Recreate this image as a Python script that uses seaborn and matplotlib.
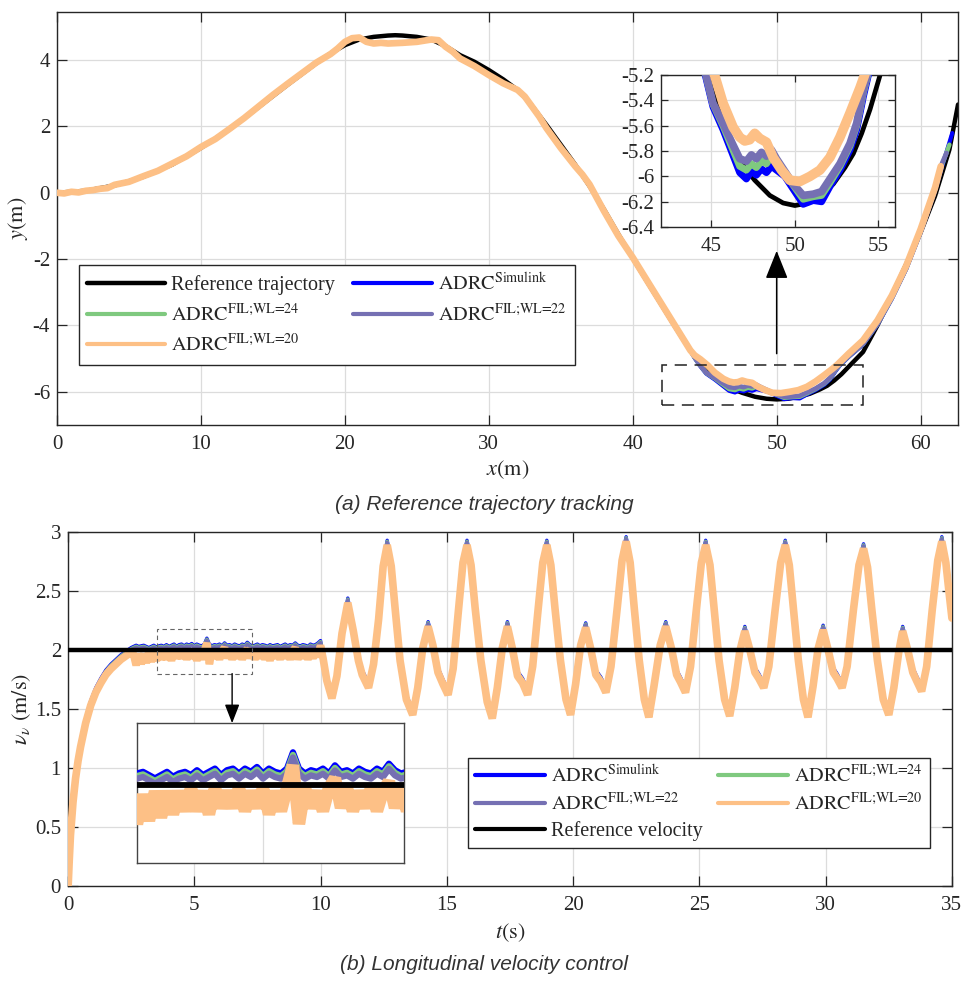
import numpy as np
import matplotlib
matplotlib.use('Agg')
import matplotlib.pyplot as plt
from matplotlib.lines import Line2D
from matplotlib.patches import Rectangle
from matplotlib.ticker import FuncFormatter
import seaborn as sns

# ---------------- data: (a) trajectory ----------------
ref_x = [0, 2, 4, 6, 8, 10, 12, 14, 16, 18,
         19, 20, 21, 22, 23, 23.5, 24, 25, 26, 27,
         28, 29, 30, 31, 32, 32.5, 33, 34, 35, 36,
         37, 38, 39, 40, 41, 42, 43, 44, 45, 46,
         47, 47.6, 48.5, 49.3, 50, 50.8, 51.6, 52.3, 53, 53.5,
         54, 54.5, 55.1, 56, 57, 58, 59, 60, 61, 62,
         62.6]
ref_y = [0, 0.06, 0.22, 0.48, 0.85, 1.35, 1.92, 2.58, 3.25, 3.9,
         4.2, 4.45, 4.62, 4.7, 4.74, 4.75, 4.74, 4.7, 4.62, 4.42,
         4.15, 3.95, 3.7, 3.42, 3.1, 2.88, 2.62, 2.05, 1.45, 0.85,
         0.2, -0.5, -1.25, -1.97, -2.68, -3.38, -4.08, -4.75, -5.3, -5.7,
         -5.93, -6.03, -6.15, -6.21, -6.23, -6.21, -6.14, -6.06, -5.93, -5.82,
         -5.66, -5.47, -5.2, -4.8, -4.0, -3.1, -2.15, -1.2, -0.1, 1.3,
         2.66]

# measured path, common to all controllers up to x = 44
track_x_left = [0, 0.5, 1, 1.5, 2, 2.5, 3, 3.5, 4,
                5, 6, 7, 8, 9, 10, 11, 12, 13, 14, 15, 16, 17, 18, 19,
                19.5, 20, 20.5, 21, 21.5, 22, 22.5, 23,
                24, 25, 26, 26.5, 27, 27.5, 28, 29, 30, 31, 32,
                32.5, 33, 33.5, 34, 35, 36, 36.5, 37, 37.5, 38,
                39, 40, 41, 42, 43, 43.5, 44]
track_y_left = [0.0, -0.02, 0.03, 0.01, 0.06, 0.08, 0.12, 0.14, 0.24,
                0.33, 0.5, 0.66, 0.88, 1.1, 1.38, 1.62, 1.93, 2.25, 2.6, 2.95, 3.28, 3.6, 3.92, 4.18,
                4.35, 4.55, 4.66, 4.68, 4.55, 4.5, 4.52, 4.5,
                4.52, 4.55, 4.62, 4.6, 4.4, 4.25, 4.05, 3.82, 3.55, 3.3, 3.1,
                2.9, 2.6, 2.3, 1.95, 1.35, 0.8, 0.55, 0.25, -0.15, -0.55,
                -1.3, -1.95, -2.65, -3.35, -4.05, -4.4, -4.75]

# per-controller path around the minimum and up to the end
sim_x_low = [44.3, 44.64, 45.1, 45.7, 46.26, 46.7, 47.1, 47.4, 47.7, 48.0,
             48.3, 48.6, 48.9, 49.4, 49.9, 50.5, 51.1, 51.6, 52.1, 52.7,
             53.3, 53.7, 54.1, 54.4, 55, 56, 57, 58, 59, 60,
             61, 61.5, 62.2]
sim_y_low = [-4.98, -5.2, -5.45, -5.63, -5.82, -5.97, -6.02, -5.96, -5.99, -5.94,
             -5.97, -5.92, -5.95, -6.0, -6.1, -6.22, -6.19, -6.2, -6.08, -5.95,
             -5.79, -5.63, -5.37, -5.2, -4.95, -4.58, -3.98, -3.2, -2.3, -1.2,
             0.05, 0.8, 1.8]
fil24_x_low = [44.3, 44.64, 45.1, 45.7, 46.26, 46.7, 47.1, 47.4, 47.7, 48.0,
               48.3, 48.6, 48.9, 49.4, 49.9, 50.5, 51.1, 51.6, 52.1, 52.7,
               53.3, 53.7, 54.1, 54.4, 55, 56, 57, 58, 59, 60,
               61, 61.5, 62.0]
fil24_y_low = [-4.97, -5.18, -5.43, -5.6, -5.78, -5.92, -5.95, -5.9, -5.93, -5.88,
               -5.9, -5.84, -5.88, -5.97, -6.07, -6.18, -6.16, -6.15, -6.05, -5.92,
               -5.76, -5.6, -5.34, -5.18, -4.93, -4.56, -3.96, -3.18, -2.28, -1.18,
               0.08, 0.85, 1.45]
fil22_x_low = [44.3, 44.64, 45.1, 45.7, 46.26, 46.7, 47.1, 47.4, 47.7, 48.0,
               48.3, 48.6, 48.9, 49.4, 49.9, 50.5, 51.1, 51.6, 52.1, 52.7,
               53.3, 53.7, 54.1, 54.4, 55, 56, 57, 58, 59, 60,
               61, 61.5, 61.8]
fil22_y_low = [-4.96, -5.17, -5.42, -5.58, -5.74, -5.86, -5.88, -5.83, -5.86, -5.81,
               -5.84, -5.79, -5.86, -5.96, -6.06, -6.15, -6.14, -6.12, -6.02, -5.9,
               -5.74, -5.58, -5.32, -5.16, -4.92, -4.55, -3.95, -3.17, -2.27, -1.17,
               0.1, 0.9, 1.2]
fil20_x_low = [44.3, 44.7, 45.2, 45.7, 46.3, 46.7, 47.0, 47.3, 47.6, 47.9,
               48.3, 48.7, 49.2, 49.7, 50.3, 50.9, 51.5, 52.1, 52.7, 53.3,
               53.9, 54.2, 55, 56, 57, 58, 59, 60, 61, 61.4]
fil20_y_low = [-4.9, -5.02, -5.2, -5.42, -5.61, -5.69, -5.72, -5.71, -5.66, -5.7,
               -5.73, -5.85, -5.95, -6.03, -6.04, -6.0, -5.95, -5.85, -5.69, -5.5,
               -5.3, -5.19, -4.85, -4.45, -3.85, -3.1, -2.2, -1.1, 0.15, 0.8]

# ---------------- data: (b) velocity ----------------
vel_ref = 2.0
rise_t = [0, 0.05, 0.1, 0.2, 0.3, 0.4, 0.5, 0.7, 0.9, 1.1, 1.3, 1.5, 1.7, 1.9, 2.1, 2.3, 2.5]
rise_sim = [0, 0.25, 0.47, 0.75, 0.95, 1.1, 1.22, 1.42, 1.57, 1.68, 1.76, 1.83, 1.88, 1.92, 1.96, 1.99, 2.02]

flat_t = [2.6, 2.7, 2.8, 2.9, 3.0, 3.1, 3.2, 3.3, 3.4, 3.5,
          3.6, 3.7, 3.8, 3.9, 4.0, 4.1, 4.2, 4.3, 4.4, 4.5,
          4.6, 4.7, 4.8, 4.9, 5.0, 5.1, 5.2, 5.3, 5.4, 5.5,
          5.6, 5.7, 5.8, 5.9, 6.0, 6.1, 6.2, 6.3, 6.4, 6.5,
          6.6, 6.7, 6.8, 6.9, 7.0, 7.1, 7.2, 7.3, 7.4, 7.5,
          7.6, 7.7, 7.8, 7.9, 8.0, 8.1, 8.2, 8.3, 8.4, 8.5,
          8.6, 8.7, 8.8, 8.9, 9.0, 9.1, 9.2, 9.3, 9.4, 9.5,
          9.6, 9.7, 9.8, 9.9]
flat_sim = [2.03, 2.04, 2.03, 2.035, 2.04, 2.03, 2.02, 2.03, 2.04, 2.025,
            2.035, 2.04, 2.03, 2.045, 2.03, 2.04, 2.05, 2.03, 2.045, 2.05,
            2.035, 2.05, 2.04, 2.055, 2.035, 2.05, 2.04, 2.035, 2.05, 2.1,
            2.05, 2.035, 2.045, 2.04, 2.05, 2.035, 2.06, 2.04, 2.045, 2.035,
            2.05, 2.04, 2.035, 2.05, 2.04, 2.065, 2.045, 2.035, 2.04, 2.05,
            2.035, 2.045, 2.04, 2.03, 2.045, 2.035, 2.04, 2.045, 2.03, 2.04,
            2.05, 2.035, 2.045, 2.04, 2.06, 2.04, 2.035, 2.045, 2.04, 2.03,
            2.05, 2.04, 2.045, 2.06]
flat_fil20 = [1.96, 1.87, 1.97, 1.88, 1.97, 1.89, 1.98, 1.90, 1.98, 1.91,
              1.98, 1.92, 1.99, 1.92, 1.98, 1.91, 1.99, 1.93, 1.98, 1.93,
              1.99, 1.92, 1.98, 1.93, 1.99, 1.91, 1.98, 1.92, 1.99, 2.06,
              1.88, 1.99, 1.93, 1.98, 1.92, 1.99, 2.02, 1.93, 1.99, 1.92,
              1.98, 1.93, 1.99, 1.92, 1.98, 2.01, 1.93, 1.99, 1.92, 1.98,
              1.93, 1.99, 1.92, 1.98, 1.91, 1.99, 1.93, 1.98, 1.92, 1.99,
              1.93, 1.98, 1.92, 1.99, 2.02, 1.92, 1.98, 1.93, 1.99, 1.92,
              1.98, 1.93, 1.99, 1.94]

osc_t = [10.0, 10.1, 10.25, 10.45, 10.65, 10.85, 11.08, 11.3, 11.5, 11.65, 11.9,
         12.1, 12.3, 12.48, 12.64, 12.8, 12.95, 13.15, 13.4, 13.65,
         13.85, 14.05, 14.26, 14.45, 14.65, 14.85, 15.05,
         15.25, 15.45, 15.64, 15.8, 15.96, 16.12, 16.35, 16.6, 16.8,
         17.0, 17.2, 17.4, 17.6, 17.8, 18.0, 18.2,
         18.4, 18.6, 18.8, 18.96, 19.12, 19.28, 19.5, 19.72, 19.9,
         20.1, 20.3, 20.5, 20.7, 20.9, 21.1, 21.3,
         21.5, 21.75, 21.94, 22.1, 22.26, 22.42, 22.62, 22.82, 23.0,
         23.2, 23.45, 23.67, 23.9, 24.1, 24.25, 24.45,
         24.65, 24.88, 25.08, 25.25, 25.42, 25.58, 25.78, 26.0, 26.2,
         26.4, 26.6, 26.8, 27.0, 27.2, 27.35, 27.55,
         27.75, 28.0, 28.22, 28.4, 28.56, 28.72, 28.92, 29.12, 29.3,
         29.5, 29.7, 29.9, 30.1, 30.3, 30.45, 30.65,
         30.85, 31.1, 31.32, 31.5, 31.66, 31.82, 32.05, 32.28, 32.5,
         32.7, 32.9, 33.05, 33.25, 33.45, 33.6, 33.8,
         34.0, 34.22, 34.44, 34.6, 34.76, 34.9, 35.0]
osc_sim = [2.08, 1.97, 1.78, 1.63, 1.82, 2.18, 2.44, 2.2, 1.95, 1.83, 1.72,
           1.92, 2.3, 2.75, 2.93, 2.75, 2.4, 1.95, 1.62, 1.49,
           1.72, 2.06, 2.24, 2.08, 1.85, 1.75, 1.66,
           1.88, 2.35, 2.78, 2.93, 2.76, 2.4, 1.95, 1.6, 1.46,
           1.72, 2.06, 2.24, 2.05, 1.82, 1.76, 1.66,
           1.9, 2.35, 2.78, 2.93, 2.76, 2.4, 1.95, 1.62, 1.49,
           1.75, 2.08, 2.23, 2.05, 1.83, 1.77, 1.68,
           1.9, 2.4, 2.8, 2.96, 2.78, 2.4, 1.95, 1.62, 1.47,
           1.73, 2.08, 2.24, 2.05, 1.83, 1.77, 1.68,
           1.9, 2.38, 2.78, 2.93, 2.76, 2.4, 1.95, 1.62, 1.48,
           1.72, 2.03, 2.2, 2.04, 1.85, 1.8, 1.72,
           1.9, 2.38, 2.78, 2.93, 2.76, 2.4, 1.95, 1.62, 1.47,
           1.73, 2.05, 2.21, 2.04, 1.85, 1.8, 1.72,
           1.9, 2.38, 2.76, 2.9, 2.74, 2.4, 1.95, 1.62, 1.49,
           1.72, 2.03, 2.2, 2.04, 1.85, 1.78, 1.69,
           1.9, 2.38, 2.8, 2.96, 2.78, 2.5, 2.31]

# how far each FIL run sits below the Simulink run
fil24_shift = -0.008
fil22_shift = -0.016
fil20_shift = -0.04

# ---------------- style ----------------
sns.set_style('whitegrid')
plt.rcParams['font.family'] = ['Liberation Serif', 'DejaVu Serif']
plt.rcParams['mathtext.fontset'] = 'stix'
plt.rcParams['axes.unicode_minus'] = False

C_REF = 'black'
C_SIM = '#0000ff'
C_24 = '#7fc97f'
C_22 = '#7570b3'
C_20 = '#fdc086'
DARK = '#262626'

LBL_SIM = r'$\mathrm{ADRC}^{\mathrm{Simulink}}$'
LBL_24 = r'$\mathrm{ADRC}^{\text{FIL;WL=24}}$'
LBL_22 = r'$\mathrm{ADRC}^{\text{FIL;WL=22}}$'
LBL_20 = r'$\mathrm{ADRC}^{\text{FIL;WL=20}}$'

fmt = FuncFormatter(lambda v, p: f'{v:g}')


def draw(ax, x, y, color, lw, z, join='round'):
    sns.lineplot(x=np.asarray(x, float), y=np.asarray(y, float), ax=ax, color=color,
                 linewidth=lw, sort=False, estimator=None, zorder=z, legend=False,
                 solid_joinstyle=join)


def style(ax, ticks=True):
    ax.set_facecolor('white')
    for s in ax.spines.values():
        s.set_visible(True)
        s.set_color(DARK)
        s.set_linewidth(1.0)
    ax.grid(True, color='#dcdcdc', linewidth=0.9)
    ax.set_axisbelow(True)
    if ticks:
        ax.tick_params(direction='in', length=7, width=0.9, top=True, right=True,
                       bottom=True, left=True, colors=DARK, labelsize=15,
                       labelfontfamily='Liberation Serif')
        ax.tick_params(axis='x', pad=7)
        ax.tick_params(axis='y', pad=5)
        ax.xaxis.set_major_formatter(fmt)
        ax.yaxis.set_major_formatter(fmt)
    else:
        ax.tick_params(length=0, labelbottom=False, labelleft=False)
    ax.set_xlabel('')
    ax.set_ylabel('')


fig = plt.figure(figsize=(9.68, 9.83), dpi=100)

# ---------------- (a) trajectory ----------------
ax1 = fig.add_axes([0.0589, 0.5677, 0.9308, 0.4201])
ax1_in = fig.add_axes([0.683, 0.769, 0.2417, 0.1546])

paths = [
    (np.r_[track_x_left, sim_x_low], np.r_[track_y_left, sim_y_low], C_SIM, 3.0, 5.0, 3),
    (np.r_[track_x_left, fil24_x_low], np.r_[track_y_left, fil24_y_low], C_24, 3.2, 5.0, 4),
    (np.r_[track_x_left, fil22_x_low], np.r_[track_y_left, fil22_y_low], C_22, 3.4, 5.5, 5),
    (np.r_[track_x_left, fil20_x_low], np.r_[track_y_left, fil20_y_low], C_20, 4.8, 7.0, 6),
]
draw(ax1, ref_x, ref_y, C_REF, 3.2, 2)
draw(ax1_in, ref_x, ref_y, C_REF, 3.4, 2)
for px, py, c, lw_main, lw_zoom, z in paths:
    draw(ax1, px, py, c, lw_main, z)
    draw(ax1_in, px, py, c, lw_zoom, z)

style(ax1)
ax1.set_xlim(0, 62.6)
ax1.set_ylim(-7, 5.45)
ax1.set_xticks([0, 10, 20, 30, 40, 50, 60])
ax1.set_yticks([-6, -4, -2, 0, 2, 4])
ax1.set_xlabel(r'$x(\mathrm{m})$', fontsize=16, color=DARK, labelpad=3)
ax1.set_ylabel(r'$y(\mathrm{m})$', fontsize=16, color=DARK, labelpad=2)

style(ax1_in)
ax1_in.set_xlim(42, 56)
ax1_in.set_ylim(-6.4, -5.2)
ax1_in.set_xticks([45, 50, 55])
ax1_in.set_yticks([-6.4, -6.2, -6, -5.8, -5.6, -5.4, -5.2])
ax1_in.tick_params(length=5)

ax1.add_patch(Rectangle((42, -6.4), 14, 1.2, fill=False, edgecolor='#222222',
                        linewidth=1.1, linestyle=(0, (8, 5)), zorder=8))
ax1.annotate('', xy=(50, -1.75), xytext=(50, -4.85),
             arrowprops=dict(arrowstyle='-|>,head_length=1.25,head_width=0.5',
                             color='black', lw=1.1, mutation_scale=14,
                             shrinkA=0, shrinkB=0), zorder=8)

h_ref = Line2D([], [], color=C_REF, lw=3.2)
h_sim = Line2D([], [], color=C_SIM, lw=3.0)
h_24 = Line2D([], [], color=C_24, lw=3.0)
h_22 = Line2D([], [], color=C_22, lw=3.0)
h_20 = Line2D([], [], color=C_20, lw=3.0)
leg1 = ax1.legend([h_ref, h_24, h_20, h_sim, h_22],
                  ['Reference trajectory', LBL_24, LBL_20, LBL_SIM, LBL_22],
                  ncol=2, loc='upper left', bbox_to_anchor=(0.024, 0.387),
                  fontsize=14.5, handlelength=3.9, handletextpad=0.3, columnspacing=0.9,
                  labelspacing=0.42, borderpad=0.4, borderaxespad=0,
                  fancybox=False, framealpha=1, edgecolor=DARK)
leg1.get_frame().set_linewidth(1.0)

# ---------------- (b) velocity ----------------
ax2 = fig.add_axes([0.0702, 0.0987, 0.9132, 0.3601])
ax2_in = fig.add_axes([0.1415, 0.1221, 0.2758, 0.1424])

vel_t = np.r_[rise_t, flat_t, osc_t]
vel_sim = np.r_[rise_sim, flat_sim, osc_sim]
vel_fil20 = np.r_[np.add(rise_sim, fil20_shift), flat_fil20, np.add(osc_sim, fil20_shift)]

for ax, lw_thin, lw_fat, lw_ref in ((ax2, 2.4, 5.5, 3.2), (ax2_in, 4.5, 9.0, 4.2)):
    draw(ax, vel_t, vel_sim, C_SIM, lw_thin, 3)
    draw(ax, vel_t, vel_sim + fil24_shift, C_24, lw_thin, 4)
    draw(ax, vel_t, vel_sim + fil22_shift, C_22, lw_thin, 5)
    draw(ax, vel_t, vel_fil20, C_20, lw_fat, 6, join='bevel')
    draw(ax, [0, 35], [vel_ref, vel_ref], C_REF, lw_ref, 7)

style(ax2)
ax2.set_xlim(0, 35)
ax2.set_ylim(0, 3)
ax2.set_xticks([0, 5, 10, 15, 20, 25, 30, 35])
ax2.set_yticks([0, 0.5, 1, 1.5, 2, 2.5, 3])
ax2.set_xlabel(r'$t(\mathrm{s})$', fontsize=16, color=DARK, labelpad=5)
ax2.set_ylabel(r'$\nu_\nu\ (\mathrm{m/s})$', fontsize=16, color=DARK, labelpad=1)

style(ax2_in, ticks=False)
ax2_in.set_xlim(2.9, 7.35)
ax2_in.set_ylim(1.76, 2.19)
ax2_in.set_xticks([5])
ax2_in.set_yticks([2])
ax2_in.spines[:].set_color('#444444')

ax2.add_patch(Rectangle((3.52, 1.80), 3.76, 0.38, fill=False, edgecolor='#666666',
                        linewidth=0.8, linestyle=(0, (4, 3)), zorder=8))
ax2.annotate('', xy=(6.5, 1.38), xytext=(6.5, 1.80),
             arrowprops=dict(arrowstyle='-|>,head_length=1.15,head_width=0.45',
                             color='black', lw=1.0, mutation_scale=10,
                             shrinkA=0, shrinkB=0), zorder=8)

h_vref = Line2D([], [], color=C_REF, lw=3.0)
leg2 = ax2.legend([h_sim, h_22, h_vref, h_24, h_20],
                  [LBL_SIM, LBL_22, 'Reference velocity', LBL_24, LBL_20],
                  ncol=2, loc='upper left', bbox_to_anchor=(0.452, 0.362),
                  fontsize=14.5, handlelength=3.5, handletextpad=0.3, columnspacing=0.75,
                  labelspacing=0.3, borderpad=0.35, borderaxespad=0,
                  fancybox=False, framealpha=1, edgecolor=DARK)
leg2.get_frame().set_linewidth(1.0)

# ---------------- captions ----------------
fig.text(0.5, 1 - 504 / 983, '(a) Reference trajectory tracking', ha='center', va='center',
         family='Liberation Sans', style='italic', fontsize=15, color='#333333')
fig.text(0.5, 1 - 965 / 983, '(b) Longitudinal velocity control', ha='center', va='center',
         family='Liberation Sans', style='italic', fontsize=15, color='#333333')

fig.savefig('out.png', dpi=100)
